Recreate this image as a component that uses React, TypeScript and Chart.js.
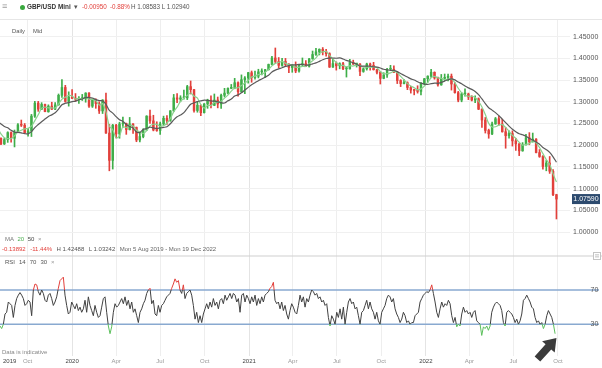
import React, { useEffect, useRef } from "react";
import { Chart, registerables } from "chart.js";

Chart.register(...registerables);

const FONT = 'Arial, "Liberation Sans", Helvetica, sans-serif';

// ---------- DATA ----------
// Weekly candles. Day 0 = Mon 5 Aug 2019; first week = Mon 27 May 2019.
const FIRST_WEEK_DAY = -70;

const opens = [
  1.2620, 1.2625, 1.2735, 1.2590, 1.2740, 1.2695, 1.2535, 1.2570, 1.2475, 1.2375,
  1.2160, 1.2030, 1.2130, 1.2290, 1.2160, 1.2290, 1.2470, 1.2460, 1.2290, 1.2330,
  1.2670, 1.2970, 1.2830, 1.2940, 1.2770, 1.2900, 1.2830, 1.2930, 1.3150, 1.3330,
  1.3010, 1.3110, 1.3080, 1.3060, 1.3070, 1.3070, 1.3200, 1.2900, 1.3050, 1.2960,
  1.2790, 1.3040, 1.2280, 1.1650, 1.2460, 1.2260, 1.2490, 1.2500, 1.2360, 1.2490,
  1.2410, 1.2120, 1.2200, 1.2350, 1.2670, 1.2560, 1.2350, 1.2340, 1.2490, 1.2620,
  1.2570, 1.2790, 1.3090, 1.3060, 1.3090, 1.3090, 1.3350, 1.3280, 1.2800, 1.2920,
  1.2750, 1.2950, 1.3040, 1.2920, 1.3040, 1.2950, 1.3150, 1.3200, 1.3310, 1.3320,
  1.3440, 1.3230, 1.3510, 1.3550, 1.3670, 1.3560, 1.3590, 1.3690, 1.3700, 1.3740,
  1.3860, 1.4010, 1.3930, 1.3840, 1.3930, 1.3860, 1.3790, 1.3830, 1.3710, 1.3850,
  1.3880, 1.3820, 1.3990, 1.4090, 1.4150, 1.4210, 1.4160, 1.4110, 1.3800, 1.3880,
  1.3830, 1.3880, 1.3760, 1.3760, 1.3910, 1.3870, 1.3870, 1.3700, 1.3760, 1.3870,
  1.3840, 1.3740, 1.3680, 1.3540, 1.3620, 1.3750, 1.3750, 1.3680, 1.3490, 1.3420,
  1.3440, 1.3330, 1.3270, 1.3260, 1.3240, 1.3420, 1.3530, 1.3590, 1.3680, 1.3550,
  1.3390, 1.3540, 1.3560, 1.3590, 1.3410, 1.3210, 1.3040, 1.3180, 1.3180, 1.3110,
  1.3040, 1.3070, 1.2830, 1.2580, 1.2340, 1.2260, 1.2490, 1.2610, 1.2490, 1.2310,
  1.2220, 1.2270, 1.2100, 1.2030, 1.1870, 1.2010, 1.2170, 1.2080, 1.2140, 1.1830,
  1.1740, 1.1510, 1.1590, 1.1400, 1.0860,
];
const highs = [
  1.2690, 1.2760, 1.2760, 1.2780, 1.2780, 1.2720, 1.2580, 1.2580, 1.2520, 1.2420,
  1.2170, 1.2160, 1.2310, 1.2310, 1.2350, 1.2500, 1.2580, 1.2500, 1.2390, 1.2710,
  1.3010, 1.3010, 1.2980, 1.2950, 1.2930, 1.2990, 1.2980, 1.3180, 1.3510, 1.3380,
  1.3230, 1.3280, 1.3190, 1.3120, 1.3170, 1.3210, 1.3210, 1.3070, 1.3070, 1.3000,
  1.3050, 1.3200, 1.2480, 1.2480, 1.2480, 1.2530, 1.2650, 1.2510, 1.2640, 1.2500,
  1.2420, 1.2290, 1.2380, 1.2680, 1.2810, 1.2690, 1.2540, 1.2530, 1.2670, 1.2680,
  1.2800, 1.3170, 1.3190, 1.3140, 1.3270, 1.3380, 1.3480, 1.3290, 1.3010, 1.2930,
  1.2960, 1.3060, 1.3140, 1.3180, 1.3110, 1.3180, 1.3310, 1.3320, 1.3400, 1.3540,
  1.3460, 1.3620, 1.3580, 1.3680, 1.3710, 1.3710, 1.3750, 1.3760, 1.3750, 1.3870,
  1.4050, 1.4240, 1.4020, 1.4000, 1.4000, 1.3880, 1.3850, 1.3920, 1.3860, 1.4010,
  1.3950, 1.4000, 1.4170, 1.4230, 1.4220, 1.4250, 1.4210, 1.4130, 1.3990, 1.3920,
  1.3900, 1.3910, 1.3800, 1.3980, 1.3960, 1.3880, 1.3880, 1.3780, 1.3890, 1.3890,
  1.3910, 1.3750, 1.3700, 1.3670, 1.3770, 1.3840, 1.3830, 1.3700, 1.3510, 1.3510,
  1.3460, 1.3360, 1.3290, 1.3370, 1.3440, 1.3540, 1.3600, 1.3750, 1.3690, 1.3570,
  1.3630, 1.3640, 1.3640, 1.3640, 1.3440, 1.3240, 1.3210, 1.3300, 1.3200, 1.3140,
  1.3140, 1.3090, 1.2840, 1.2640, 1.2370, 1.2530, 1.2640, 1.2670, 1.2600, 1.2410,
  1.2330, 1.2330, 1.2160, 1.2040, 1.2060, 1.2250, 1.2290, 1.2280, 1.2150, 1.1900,
  1.1760, 1.1650, 1.1740, 1.1440, 1.0870,
];
const lows = [
  1.2560, 1.2620, 1.2560, 1.2500, 1.2620, 1.2470, 1.2440, 1.2380, 1.2370, 1.2080,
  1.2015, 1.2015, 1.2065, 1.2070, 1.1960, 1.2290, 1.2430, 1.2270, 1.2210, 1.2200,
  1.2640, 1.2780, 1.2820, 1.2770, 1.2760, 1.2820, 1.2820, 1.2920, 1.3100, 1.2990,
  1.2900, 1.3070, 1.3010, 1.2960, 1.3030, 1.2990, 1.2870, 1.2870, 1.2850, 1.2730,
  1.2730, 1.2270, 1.1410, 1.1450, 1.2170, 1.2160, 1.2410, 1.2250, 1.2350, 1.2270,
  1.2080, 1.2075, 1.2170, 1.2340, 1.2500, 1.2330, 1.2320, 1.2250, 1.2470, 1.2480,
  1.2550, 1.2780, 1.2980, 1.3000, 1.3060, 1.3050, 1.3180, 1.2760, 1.2760, 1.2680,
  1.2740, 1.2850, 1.2860, 1.2910, 1.2860, 1.2850, 1.3110, 1.3180, 1.3300, 1.3300,
  1.3130, 1.3220, 1.3190, 1.3430, 1.3450, 1.3520, 1.3550, 1.3620, 1.3560, 1.3730,
  1.3850, 1.3890, 1.3780, 1.3820, 1.3820, 1.3670, 1.3680, 1.3670, 1.3680, 1.3820,
  1.3810, 1.3800, 1.3980, 1.4070, 1.4080, 1.4080, 1.4050, 1.3790, 1.3790, 1.3730,
  1.3760, 1.3740, 1.3570, 1.3750, 1.3860, 1.3800, 1.3600, 1.3680, 1.3730, 1.3730,
  1.3730, 1.3640, 1.3410, 1.3530, 1.3560, 1.3740, 1.3670, 1.3420, 1.3350, 1.3410,
  1.3280, 1.3200, 1.3160, 1.3200, 1.3160, 1.3390, 1.3450, 1.3560, 1.3520, 1.3360,
  1.3380, 1.3490, 1.3480, 1.3270, 1.3200, 1.3000, 1.3000, 1.3130, 1.3050, 1.3020,
  1.2980, 1.2820, 1.2410, 1.2280, 1.2160, 1.2240, 1.2480, 1.2460, 1.2300, 1.1930,
  1.2160, 1.1980, 1.1880, 1.1760, 1.1860, 1.2000, 1.2010, 1.2070, 1.1820, 1.1720,
  1.1450, 1.1410, 1.1350, 1.0840, 1.0300,
];
const closes = [
  1.2625, 1.2735, 1.2590, 1.2740, 1.2695, 1.2535, 1.2570, 1.2475, 1.2375, 1.2160,
  1.2030, 1.2130, 1.2290, 1.2160, 1.2290, 1.2470, 1.2460, 1.2290, 1.2330, 1.2670,
  1.2970, 1.2830, 1.2940, 1.2770, 1.2900, 1.2830, 1.2930, 1.3150, 1.3330, 1.3010,
  1.3110, 1.3080, 1.3060, 1.3070, 1.3070, 1.3200, 1.2900, 1.3050, 1.2960, 1.2790,
  1.3040, 1.2280, 1.1650, 1.2460, 1.2260, 1.2490, 1.2500, 1.2360, 1.2490, 1.2410,
  1.2120, 1.2200, 1.2350, 1.2670, 1.2560, 1.2350, 1.2340, 1.2490, 1.2620, 1.2570,
  1.2790, 1.3090, 1.3060, 1.3090, 1.3090, 1.3350, 1.3280, 1.2800, 1.2920, 1.2750,
  1.2950, 1.3040, 1.2920, 1.3040, 1.2950, 1.3150, 1.3200, 1.3310, 1.3320, 1.3440,
  1.3230, 1.3510, 1.3550, 1.3670, 1.3560, 1.3590, 1.3690, 1.3700, 1.3740, 1.3860,
  1.4010, 1.3930, 1.3840, 1.3930, 1.3860, 1.3790, 1.3830, 1.3710, 1.3850, 1.3880,
  1.3820, 1.3990, 1.4090, 1.4150, 1.4210, 1.4160, 1.4110, 1.3800, 1.3880, 1.3830,
  1.3880, 1.3760, 1.3760, 1.3910, 1.3870, 1.3870, 1.3700, 1.3760, 1.3870, 1.3840,
  1.3740, 1.3680, 1.3540, 1.3620, 1.3750, 1.3750, 1.3680, 1.3490, 1.3420, 1.3440,
  1.3330, 1.3270, 1.3260, 1.3240, 1.3420, 1.3530, 1.3590, 1.3680, 1.3550, 1.3390,
  1.3540, 1.3560, 1.3590, 1.3410, 1.3210, 1.3040, 1.3180, 1.3180, 1.3110, 1.3040,
  1.3070, 1.2830, 1.2580, 1.2340, 1.2260, 1.2490, 1.2610, 1.2490, 1.2310, 1.2220,
  1.2270, 1.2100, 1.2030, 1.1870, 1.2010, 1.2170, 1.2080, 1.2140, 1.1830, 1.1740,
  1.1510, 1.1590, 1.1400, 1.0860, 1.0759,
];

// RSI(14) readings sampled along the chart, one every RSI_STEP_DAYS calendar days from day 0
const RSI_STEP_DAYS = 3.445;
const rsiValues = [
  28, 25, 30, 42, 44, 56, 54, 52, 38, 52, 60, 64, 67, 64, 60, 52, 54, 58, 56, 40,
  70, 77, 76, 68, 64, 70, 66, 58, 56, 64, 66, 60, 52, 56, 62, 72, 81, 83, 85, 64,
  52, 42, 44, 56, 52, 48, 54, 46, 50, 44, 48, 58, 44, 62, 52, 46, 40, 52, 44, 38,
  40, 50, 60, 62, 44, 28, 19, 27, 44, 54, 50, 52, 56, 60, 54, 62, 52, 58, 48, 56,
  44, 48, 40, 32, 44, 48, 54, 58, 66, 70, 72,
  54, 58, 42, 40, 52, 44, 52, 54, 58, 62, 64, 66, 72, 77, 83, 79, 81, 70, 66, 76,
  60, 66, 68, 70, 64, 52, 36, 44, 32, 40, 32, 42, 48, 54, 48, 56, 50, 60, 52, 56,
  48, 58, 60, 54, 64, 58, 62, 66, 60, 66, 64, 56, 60, 44, 64, 66, 56, 64, 60, 54,
  62, 56, 64, 52, 60, 54, 62, 56, 64, 66, 68, 72, 74, 79, 58, 54, 56, 48, 56, 46,
  52, 42, 36,
  46, 54, 50, 44, 42, 52, 64, 56, 62, 50, 60, 56, 64, 70, 68, 64, 66, 60, 62, 56,
  58, 52, 54, 38, 28, 40, 36, 30, 44, 38, 48, 36, 50, 30, 44, 56, 60, 54, 56, 48,
  50, 40, 30, 44, 46, 52, 58, 48, 56, 48, 44, 36, 44, 34, 30, 44, 48, 52, 60, 64,
  62, 56, 60, 48, 42, 38, 32, 36, 44, 40, 32, 34, 30, 32, 32, 40, 42, 44, 56, 60,
  64, 66, 68, 67,
  70, 76, 66, 56, 44, 38, 48, 56, 50, 54, 52, 58, 54, 40, 32, 38, 27, 30, 28, 42,
  50, 44, 46, 42, 44, 38, 44, 46, 34, 32, 30, 17, 27, 25, 28, 23, 28, 44, 50, 54,
  56, 54, 52, 46, 32, 28, 44, 46, 44, 42, 38, 32, 36, 30, 34, 42, 58, 60, 64, 60,
  56, 50, 48, 38, 32, 34, 30, 32, 25, 30, 40, 46, 42, 38, 30, 19,
];

const xTickDays = [20, 57, 149, 240, 331, 423, 515, 605, 696, 788, 880, 970, 1061, 1153];
const xTickLabels = ["2019", "Oct", "2020", "Apr", "Jul", "Oct", "2021", "Apr", "Jul", "Oct", "2022", "Apr", "Jul", "Oct"];
const priceTicks = [1.0, 1.05, 1.1, 1.15, 1.2, 1.25, 1.3, 1.35, 1.4, 1.45];
const rsiLevels = [70, 30];
const MA_FAST_WEEKS = 4; // ~20 trading days
const MA_SLOW_WEEKS = 10; // ~50 trading days
const ARROW_DAY = 1150;

// ---------- STYLE ----------
const UP = "#3fae49";
const DOWN = "#e2403b";
const MA_FAST_COLOR = "#8bd28e";
const MA_SLOW_COLOR = "#5a5a5a";
const RSI_DARK = "#404040";
const LEVEL_COLOR = "#89a9d0";
const PANEL_SPLIT_Y = 255.5;

const candleDay = (i: number) => FIRST_WEEK_DAY + 7 * i + 2;

function movingAverage(values: number[], n: number) {
  return values.map((_, i) => {
    if (i < n - 1) return null;
    let s = 0;
    for (let k = i - n + 1; k <= i; k++) s += values[k];
    return s / n;
  });
}

const decorPlugin = {
  id: "decor",
  beforeDatasetsDraw(chart: any) {
    const { ctx, chartArea } = chart;
    const yR = chart.scales.yR;
    ctx.save();
    ctx.strokeStyle = LEVEL_COLOR;
    ctx.lineWidth = 1.5;
    rsiLevels.forEach((lv) => {
      const y = yR.getPixelForValue(lv);
      ctx.beginPath();
      ctx.moveTo(chartArea.left, y);
      ctx.lineTo(chart.width - 3, y);
      ctx.stroke();
    });
    ctx.restore();
  },
  afterDraw(chart: any) {
    const { ctx, chartArea } = chart;
    const yR = chart.scales.yR;
    const yP = chart.scales.yP;
    const xS = chart.scales.x;
    ctx.save();
    ctx.fillStyle = "#e6e6e6";
    ctx.fillRect(0, chartArea.top - 1, chart.width, 1);
    ctx.fillStyle = "#cfcfcf";
    ctx.fillRect(0, PANEL_SPLIT_Y, chart.width, 1);
    ctx.fillStyle = "#ffffff";
    ctx.strokeStyle = "#c4c4c4";
    ctx.lineWidth = 1;
    ctx.fillRect(593.5, PANEL_SPLIT_Y - 3, 7, 7);
    ctx.strokeRect(593.5, PANEL_SPLIT_Y - 3, 7, 7);
    ctx.fillStyle = "#b0b0b0";
    ctx.fillRect(595, PANEL_SPLIT_Y - 1, 4, 0.8);
    ctx.fillRect(595, PANEL_SPLIT_Y + 1, 4, 0.8);
    ctx.font = `7px ${FONT}`;
    ctx.fillStyle = "#555";
    ctx.textAlign = "center";
    ctx.textBaseline = "middle";
    rsiLevels.forEach((lv) => ctx.fillText(String(lv), 594.5, yR.getPixelForValue(lv)));
    const last = closes[closes.length - 1];
    const py = yP.getPixelForValue(last);
    ctx.fillStyle = "#2c4a6e";
    ctx.fillRect(572, py - 5, 28, 10);
    ctx.fillStyle = "#ffffff";
    ctx.fillText(last.toFixed(5), 586, py + 0.5);
    const tipX = xS.getPixelForValue(ARROW_DAY);
    const tipY = 338;
    const tailX = tipX - 19;
    const tailY = tipY + 21;
    const dx = tipX - tailX, dy = tipY - tailY;
    const len = Math.hypot(dx, dy);
    const ux = dx / len, uy = dy / len;
    const nx = -uy, ny = ux;
    const L = 12, W = 8.5, w = 3.8;
    const bx = tipX - ux * L, by = tipY - uy * L;
    ctx.fillStyle = "#3b3b3b";
    ctx.beginPath();
    ctx.moveTo(tipX, tipY);
    ctx.lineTo(bx + nx * W, by + ny * W);
    ctx.lineTo(bx + nx * w, by + ny * w);
    ctx.lineTo(tailX + nx * w, tailY + ny * w);
    ctx.lineTo(tailX - nx * w, tailY - ny * w);
    ctx.lineTo(bx - nx * w, by - ny * w);
    ctx.lineTo(bx - nx * W, by - ny * W);
    ctx.closePath();
    ctx.fill();
    ctx.restore();
  },
};

function Txt(props: { x: number; y: number; size?: number; color?: string; weight?: number; children: any }) {
  const size = props.size ?? 6.2;
  return (
    <span
      style={{
        position: "absolute",
        left: props.x,
        top: props.y - size * 0.6,
        fontSize: size,
        lineHeight: `${size * 1.2}px`,
        color: props.color ?? "#555",
        fontWeight: props.weight ?? 400,
        whiteSpace: "nowrap",
        fontFamily: FONT,
      }}
    >
      {props.children}
    </span>
  );
}

function Row(props: { x: number; y: number; size?: number; gap?: number; items: { t: string; c: string }[] }) {
  const size = props.size ?? 6;
  return (
    <div
      style={{
        position: "absolute",
        left: props.x,
        top: props.y - size * 0.6,
        fontSize: size,
        lineHeight: `${size * 1.2}px`,
        whiteSpace: "nowrap",
        fontFamily: FONT,
        display: "flex",
        gap: props.gap ?? 4,
      }}
    >
      {props.items.map((it, i) => (
        <span key={i} style={{ color: it.c }}>
          {it.t}
        </span>
      ))}
    </div>
  );
}

export default function App() {
  const ref = useRef<HTMLCanvasElement | null>(null);

  useEffect(() => {
    const canvas = ref.current;
    if (!canvas) return;

    const wicks = closes.map((c, i) => ({ x: candleDay(i), y: [lows[i], highs[i]] }));
    const bodies = closes.map((c, i) => ({ x: candleDay(i), y: [opens[i], c] }));
    const colors = closes.map((c, i) => (c >= opens[i] ? UP : DOWN));
    const maFast = movingAverage(closes, MA_FAST_WEEKS).map((v, i) => ({ x: candleDay(i), y: v }));
    const maSlow = movingAverage(closes, MA_SLOW_WEEKS).map((v, i) => ({ x: candleDay(i), y: v }));
    const rsiPoints = rsiValues.map((v, i) => ({ x: i * RSI_STEP_DAYS, y: v }));

    const rsiColor = (ctx: any) => {
      const chart = ctx.chart;
      const area = chart.chartArea;
      if (!area) return RSI_DARK;
      const s = chart.scales.yR;
      const h = area.bottom - area.top;
      const f70 = Math.min(1, Math.max(0, (s.getPixelForValue(70) - area.top) / h));
      const f30 = Math.min(1, Math.max(0, (s.getPixelForValue(30) - area.top) / h));
      const g = chart.ctx.createLinearGradient(0, area.top, 0, area.bottom);
      g.addColorStop(0, DOWN);
      g.addColorStop(f70, DOWN);
      g.addColorStop(f70, RSI_DARK);
      g.addColorStop(f30, RSI_DARK);
      g.addColorStop(f30, "#5cbf5c");
      g.addColorStop(1, "#5cbf5c");
      return g;
    };

    const chart = new Chart(canvas, {
      type: "bar",
      data: {
        datasets: [
          {
            type: "line",
            label: "MA50",
            data: maSlow as any,
            yAxisID: "yP",
            borderColor: MA_SLOW_COLOR,
            borderWidth: 1.2,
            pointRadius: 0,
            tension: 0.3,
            order: 1,
          },
          {
            type: "line",
            label: "MA20",
            data: maFast as any,
            yAxisID: "yP",
            borderColor: MA_FAST_COLOR,
            borderWidth: 1.2,
            pointRadius: 0,
            tension: 0.3,
            order: 2,
          },
          {
            type: "bar",
            label: "wick",
            data: wicks as any,
            yAxisID: "yP",
            backgroundColor: colors,
            barThickness: 1,
            grouped: false,
            clip: 0,
            order: 4,
          } as any,
          {
            type: "bar",
            label: "body",
            data: bodies as any,
            yAxisID: "yP",
            backgroundColor: colors,
            barThickness: 1.8,
            minBarLength: 1,
            grouped: false,
            clip: 0,
            order: 3,
          } as any,
          {
            type: "line",
            label: "RSI",
            data: rsiPoints as any,
            yAxisID: "yR",
            borderColor: rsiColor as any,
            borderWidth: 1,
            pointRadius: 0,
            tension: 0,
            order: 0,
          },
        ],
      },
      options: {
        animation: false,
        responsive: false,
        devicePixelRatio: 1,
        layout: { padding: { top: 20, left: 0, right: 0, bottom: 0 } },
        plugins: { legend: { display: false }, tooltip: { enabled: false } },
        scales: {
          x: {
            type: "linear",
            min: 0,
            max: 1178,
            offset: false,
            afterBuildTicks: (s: any) => {
              s.ticks = xTickDays.map((v) => ({ value: v }));
            },
            afterFit: (s: any) => {
              s.height = 12;
            },
            ticks: {
              autoSkip: false,
              maxRotation: 0,
              padding: 2,
              font: { size: 6, family: FONT },
              color: (ctx: any) => (/^\d{4}$/.test(xTickLabels[ctx.index] || "") ? "#444" : "#999"),
              callback: (_v: any, i: number) => xTickLabels[i],
            },
            grid: {
              offset: false,
              drawTicks: false,
              color: (ctx: any) =>
                ctx.index === 0 ? "rgba(0,0,0,0)" : /^\d{4}$/.test(xTickLabels[ctx.index] || "") ? "#e4e4e4" : "#eeeeee",
            },
            border: { display: false },
          },
          yP: {
            type: "linear",
            position: "right",
            min: 0.71429,
            max: 1.48848,
            afterBuildTicks: (s: any) => {
              s.ticks = priceTicks.map((v) => ({ value: v }));
            },
            afterFit: (s: any) => {
              s.width = 32;
            },
            ticks: {
              padding: 3,
              font: { size: 7, family: FONT },
              color: "#555",
              callback: (v: any) => Number(v).toFixed(5),
            },
            grid: { color: "#f0f0f0", drawTicks: false },
            border: { display: false },
          },
          yR: {
            type: "linear",
            display: false,
            min: -7,
            max: 385,
          },
        } as any,
      },
      plugins: [decorPlugin],
    });

    return () => chart.destroy();
  }, []);

  return (
    <div
      style={{
        position: "absolute",
        left: 0,
        top: 0,
        width: 602,
        height: 368,
        background: "#ffffff",
        overflow: "hidden",
        fontFamily: FONT,
      }}
    >
      <canvas ref={ref} width={602} height={368} style={{ position: "absolute", left: 0, top: 0, width: 602, height: 368 }} />
      <Txt x={2} y={6.5} size={9} color="#9b9b9b">≡</Txt>
      <span style={{ position: "absolute", left: 19.5, top: 4.5, width: 5, height: 5, borderRadius: "50%", background: "#3aa83f" }} />
      <Txt x={27} y={7} size={6.4} color="#333" weight={600}>GBP/USD Mini</Txt>
      <Txt x={74} y={7} size={7} color="#555">▾</Txt>
      <Txt x={82} y={7} size={6.3} color={DOWN}>-0.00950</Txt>
      <Txt x={110} y={7} size={6.3} color={DOWN}>-0.88%</Txt>
      <Txt x={131} y={7} size={6.3} color="#555">H 1.08583 L 1.02940</Txt>
      <Txt x={12} y={31} size={5.8} color="#555">Daily</Txt>
      <Txt x={33} y={31} size={5.8} color="#555">Mid</Txt>

      <Row
        x={5}
        y={240}
        gap={3.5}
        items={[
          { t: "MA", c: "#777" },
          { t: "20", c: "#4caf50" },
          { t: "50", c: "#444" },
          { t: "×", c: "#999" },
        ]}
      />
      <Row
        x={2}
        y={250}
        gap={4.5}
        items={[
          { t: "-0.13892", c: DOWN },
          { t: "-11.44%", c: DOWN },
          { t: "H 1.42488", c: "#555" },
          { t: "L 1.03242", c: "#555" },
          { t: "Mon 5 Aug 2019 - Mon 19 Dec 2022", c: "#666" },
        ]}
      />
      <Row
        x={5}
        y={263}
        gap={4}
        items={[
          { t: "RSI", c: "#555" },
          { t: "14", c: "#555" },
          { t: "70", c: "#555" },
          { t: "30", c: "#555" },
          { t: "×", c: "#999" },
        ]}
      />

      <Txt x={2} y={353} size={6} color="#888">Data is indicative</Txt>
    </div>
  );
}
